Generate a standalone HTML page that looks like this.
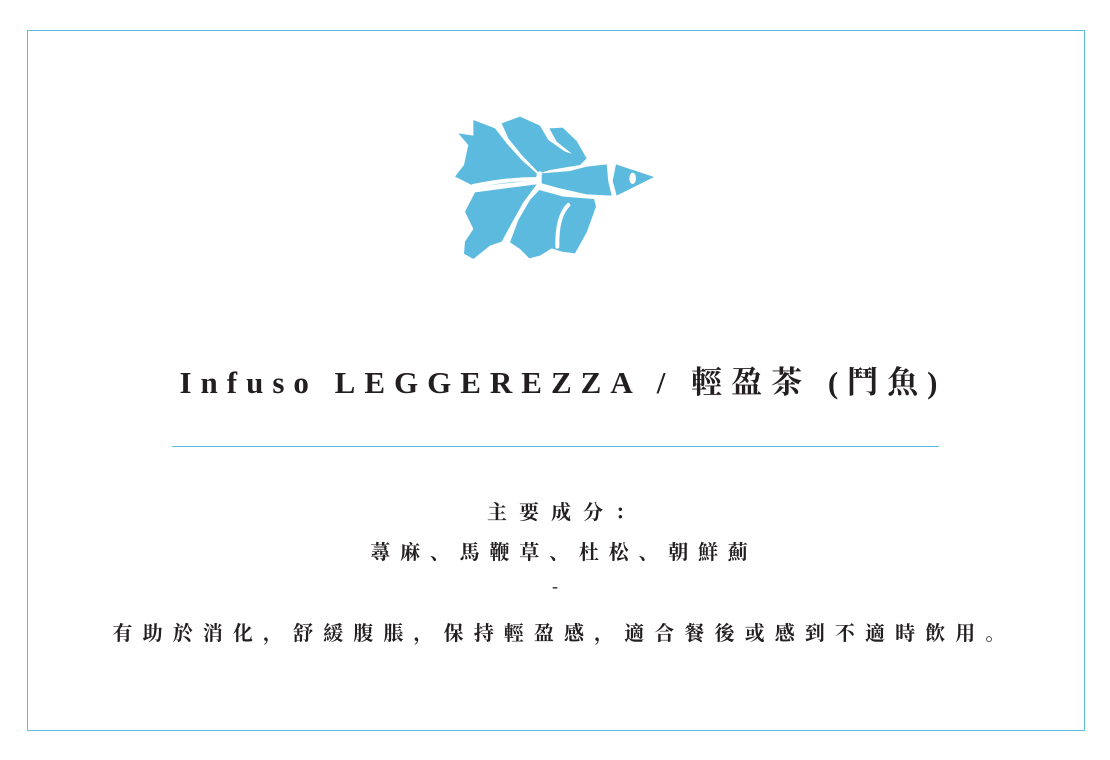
<!DOCTYPE html>
<html><head><meta charset="utf-8"><style>
body{margin:0;width:1110px;height:760px;background:#fff;position:relative;overflow:hidden;font-family:"Liberation Serif","Noto Serif CJK SC",serif;color:#231f20}
.frame{position:absolute;left:27px;top:30px;width:1056px;height:699px;border:1px solid #5bbde0}
.t{position:absolute;left:0;width:1110px;text-align:center;white-space:nowrap}
</style></head><body>
<div class="frame"></div>
<svg style="position:absolute;left:440px;top:105px" width="230" height="170" viewBox="0 0 690 510">
<g fill="#5bbade">
<path d="M100,45 L165,70 L200,115 L245,165 L290,205 L290,225 L105,245 L45,215 L72,180 L85,120 L55,85 L100,92 Z"/>
<path d="M185,55 L240,35 L300,62 L325,105 L375,140 L440,160 L420,180 L330,195 L298,205 L245,150 L205,100 Z"/>
<path d="M328,70 L368,68 L410,108 L440,160 L398,148 L350,110 Z"/>
<path d="M305,205 L390,198 L440,185 L500,178 L505,230 L515,272 L440,268 L360,250 L305,235 Z"/>
<path d="M528,178 L642,216 L530,272 L518,228 Z"/>
<path d="M105,262 L290,238 L250,292 L212,360 L185,410 L150,422 L100,462 L72,446 L75,410 L100,372 L75,320 Z"/>
<path d="M298,255 L370,275 L462,282 L468,305 L440,382 L405,445 L365,440 L335,430 L300,452 L268,460 L240,432 L210,412 L235,345 L270,285 Z"/>
</g>
<g stroke="#fff" stroke-width="12" fill="none" stroke-linecap="round">
<path d="M385,300 Q350,335 352,425"/>
<path d="M100,243 Q200,222 292,222 L300,205"/>
<path d="M292,222 L300,242"/>
</g>
<ellipse cx="578" cy="220" rx="10" ry="17" fill="#fff"/>
</svg>
<div class="t" style="top:357px;font-size:31px;font-weight:bold;letter-spacing:9px;padding-left:8px">Infuso LEGGEREZZA / 輕盈茶 (鬥魚)</div>
<div style="position:absolute;left:172px;top:446px;width:767px;height:1px;background:#5bbde0"></div>
<div class="t" style="top:496px;font-size:20px;font-weight:bold;letter-spacing:12px;padding-left:12px">主要成分：</div>
<div class="t" style="top:536px;font-size:20px;font-weight:bold;letter-spacing:9.8px;padding-left:9px">蕁麻、馬鞭草、杜松、朝鮮薊</div>
<div class="t" style="top:576px;font-size:18px">-</div>
<div class="t" style="top:617px;font-size:20px;font-weight:bold;letter-spacing:10.1px;padding-left:9px">有助於消化，舒緩腹脹，保持輕盈感，適合餐後或感到不適時飲用。</div>
</body></html>
